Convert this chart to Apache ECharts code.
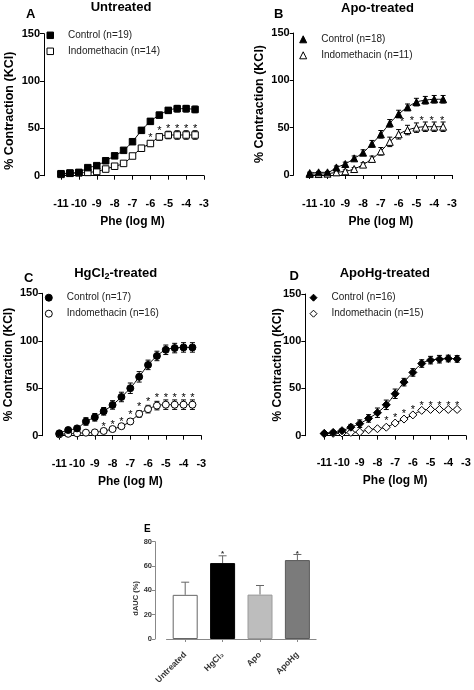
<!DOCTYPE html>
<html><head><meta charset="utf-8">
<script src="https://cdn.jsdelivr.net/npm/echarts/dist/echarts.min.js"></script>
<style>html,body{margin:0;padding:0;background:#fff}#c{width:474px;height:690px}</style>
</head><body><div id="c"></div>
<script>
// ---- data ----
const logPhe = [-11,-10.5,-10,-9.5,-9,-8.5,-8,-7.5,-7,-6.5,-6,-5.5,-5,-4.5,-4,-3.5];
const xTicks = [-11,-10,-9,-8,-7,-6,-5,-4,-3];

const ctrlA = [2.1,2.8,3.5,8.5,10.6,15.8,21,26.8,35.9,47.9,57.4,64,69,70.8,70.8,70];
const ctrlAErr = [1,1,1,1.5,1.5,1.5,1.5,2,2.5,3,3,3,3,3.5,3.5,3.5];
const indoA = [1.4,2.5,3,3.5,4.5,7,10,13,20.8,29,34,41,43,43,43,43];
const indoAErr = [1,1,1,1,1,1,1,1.5,2,3,3,3.5,4,4.5,4.5,4.5];
const starAx = [-6,-5.5,-5,-4.5,-4,-3.5];
const starAy = [43,50,52,52,52,52];

const ctrlB = [2,2.8,2.8,8,11.6,17.6,23.6,33,43,54.6,64.4,71.5,77,79,80,80];
const ctrlBErr = [1,1,1,1.5,2,2.5,3,3.5,4,4,4,3.5,4,4,4,4];
const indoB = [1,1,1.4,2.8,3.9,6.3,11,17,25,35,43,47.5,50,51,51,51];
const indoBErr = [1,1,1,1,1.5,1.5,2,3,4,5,5,5,5,5,5,5];
const starBx = [-5.8,-5.25,-4.7,-4.15,-3.55];
const starBy = [59,60.5,60.5,60.5,60.5];

const ctrlC = [2.5,6,7.7,15,19.4,25.7,32.4,40.8,50,62,74.6,84,90.5,92.3,93,93];
const ctrlCErr = [2,2,2.5,4,4,4,4.5,5,5.5,5.5,5,5,5,5,5,5];
const indoC = [1.4,2,2.5,3.2,3.5,5,7,10,15,23,28,31.7,32.7,32.7,32.7,32.7];
const indoCErr = [1,1,1,1,1,1,1.5,2,2.5,3.5,4,4.5,5,5,5,5];
const starCx = [-8.5,-8,-7.5,-7,-6.5,-6,-5.5,-5,-4.5,-4,-3.5];
const starCy = [12.3,13.7,17.6,24.6,33,38.7,42.3,42.3,42.3,42.3,42.3];

const ctrlD = [2.5,3.5,5.3,9,12.7,18.3,24.3,32.7,44.4,56.7,67,76.4,80,81,81.7,81.3];
const ctrlDErr = [1.5,1.5,2,3,4,4,5,5,5,4,4,4,4,4,3.5,3.5];
const indoD = [2,2.5,2.8,3.5,3.9,6.3,7.4,9,13.4,17.6,22,26.8,27.8,27.8,27.8,27.8];
const indoDErr = [1,1,1,1,1,1,1,1.5,1.5,1.5,1.5,1.5,1.5,1.5,1.5,1.5];
const starDx = [-7.5,-7,-6.5,-6,-5.5,-5,-4.5,-4,-3.5];
const starDy = [18.3,21.5,25.4,30.6,34.9,34.9,34.9,34.9,34.9];

const groupsE = ['Untreated','HgCl\u2082','Apo','ApoHg'];
const dAUC = [36.3,62.4,36.5,64.9];
const dAUCErr = [10.4,6,7.5,4.6];
const starEcat = [1,3];
const starEy = [72,72];

const yTicksCurve = [0,50,100,150];
const yTicksE = [0,20,40,60,80];

// ---- style / layout ----
const FONT = '"Liberation Sans", Arial, sans-serif';
const panels = [
  {grid:{left:61, top:33.7, width:143, height:142}, xOff:16, yOff:17, yGap:28, yFs:12.5, yPad:[0,12,0,0],
   sym:'rect', ctrl:ctrlA, ctrlE:ctrlAErr, indo:indoA, indoE:indoAErr, sx:starAx, sy:starAy,
   nC:'Control (n=19)', nI:'Indomethacin (n=14)', leg:{left:46.5, top:30.3}, size:6.5, lsz:6.5},
  {grid:{left:309.7, top:33, width:142.3, height:142}, xOff:16.7, yOff:16, yGap:28, yFs:12.5, yPad:0,
   sym:'triangle', ctrl:ctrlB, ctrlE:ctrlBErr, indo:indoB, indoE:indoBErr, sx:starBx, sy:starBy,
   nC:'Control (n=18)', nI:'Indomethacin (n=11)', leg:{left:299.2, top:34.3}, size:7, lsz:7},
  {grid:{left:59.3, top:293.3, width:142, height:142.4}, xOff:16, yOff:17, yGap:28, yFs:12, yPad:0,
   sym:'circle', ctrl:ctrlC, ctrlE:ctrlCErr, indo:indoC, indoE:indoCErr, sx:starCx, sy:starCy,
   nC:'Control (n=17)', nI:'Indomethacin (n=16)', leg:{left:44.8, top:292.7}, size:7, lsz:7},
  {grid:{left:324.3, top:294, width:141.7, height:141.7}, xOff:15, yOff:19, yGap:22, yFs:12, yPad:0,
   sym:'diamond', ctrl:ctrlD, ctrlE:ctrlDErr, indo:indoD, indoE:indoDErr, sx:starDx, sy:starDy,
   nC:'Control (n=16)', nI:'Indomethacin (n=15)', leg:{left:309.5, top:292.7}, size:8, lsz:7}
];

const grids = [], xAxes = [], yAxes = [], series = [], legends = [];

function errBars(gi, xs, ys, es, cap) {
  return {
    type:'custom', xAxisIndex:gi, yAxisIndex:gi, z:2, silent:true,
    data: xs.map((x,i)=>[x, ys[i]-es[i], ys[i]+es[i]]),
    encode:{x:0, y:[1,2]},
    renderItem(params, api) {
      const x = api.value(0);
      const p1 = api.coord([x, api.value(1)]), p2 = api.coord([x, api.value(2)]);
      const w = cap/2, st = {stroke:'#000', lineWidth:1};
      return {type:'group', children:[
        {type:'line', shape:{x1:p1[0],y1:p1[1],x2:p2[0],y2:p2[1]}, style:st},
        {type:'line', shape:{x1:p1[0]-w,y1:p1[1],x2:p1[0]+w,y2:p1[1]}, style:st},
        {type:'line', shape:{x1:p2[0]-w,y1:p2[1],x2:p2[0]+w,y2:p2[1]}, style:st}
      ]};
    }
  };
}
function stars(gi, xs, ys, fs) {
  return {
    type:'custom', xAxisIndex:gi, yAxisIndex:gi, z:5, silent:true,
    data: xs.map((x,i)=>[x, ys[i]]),
    renderItem(params, api) {
      const p = api.coord([api.value(0), api.value(1)]);
      return {type:'text', x:p[0], y:p[1]+fs*0.25,
        style:{text:'*', font:fs+'px '+FONT, fill:'#000', textAlign:'center', textVerticalAlign:'middle'}};
    }
  };
}

panels.forEach((p, gi) => {
  grids.push(Object.assign({outerBoundsMode:'none', containLabel:false}, p.grid));
  xAxes.push({
    gridIndex:gi, type:'value', min:-11, max:-3, interval:1, offset:p.xOff,
    axisLine:{show:true, lineStyle:{color:'#000', width:1}},
    axisTick:{show:true, length:4, lineStyle:{color:'#000'}},
    axisLabel:{fontFamily:FONT, fontWeight:'bold', fontSize:11, color:'#000', margin:7},
    splitLine:{show:false},
    name:'Phe (log M)', nameLocation:'middle', nameGap:24, nameMoveOverlap:false,
    nameTextStyle:{fontFamily:FONT, fontWeight:'bold', fontSize:12, color:'#000'}
  });
  yAxes.push({
    gridIndex:gi, type:'value', min:0, max:150, interval:50, offset:p.yOff,
    axisLine:{show:true, lineStyle:{color:'#000', width:1}},
    axisTick:{show:true, length:4, lineStyle:{color:'#000'}},
    axisLabel:{fontFamily:FONT, fontWeight:'bold', fontSize:11, color:'#000', margin:4},
    splitLine:{show:false},
    name:'% Contraction (KCl)', nameLocation:'middle', nameGap:p.yGap, nameMoveOverlap:false,
    nameTextStyle:{fontFamily:FONT, fontWeight:'bold', fontSize:p.yFs, color:'#000', padding:p.yPad}
  });
  series.push(errBars(gi, logPhe, p.ctrl, p.ctrlE, 5));
  series.push(errBars(gi, logPhe, p.indo, p.indoE, 5));
  series.push({
    name:p.nC, type:'line', xAxisIndex:gi, yAxisIndex:gi, z:4, smooth:0.35,
    data: logPhe.map((x,i)=>[x, p.ctrl[i]]),
    symbol:p.sym, symbolSize:p.size, showSymbol:true,
    lineStyle:{color:'#000', width:1},
    itemStyle:{color:'#000', borderColor:'#000', borderWidth:1},
    emphasis:{disabled:true}, animation:false
  });
  series.push({
    name:p.nI, type:'line', xAxisIndex:gi, yAxisIndex:gi, z:3, smooth:0.35,
    data: logPhe.map((x,i)=>[x, p.indo[i]]),
    symbol:p.sym, symbolSize:p.size, showSymbol:true,
    lineStyle:{color:'#000', width:1},
    itemStyle:{color:'#fff', borderColor:'#000', borderWidth:1},
    emphasis:{disabled:true}, animation:false
  });
  series.push(stars(gi, p.sx, p.sy, 11));
  legends.push({
    left:p.leg.left, top:p.leg.top, orient:'vertical', itemWidth:p.lsz, itemHeight:p.lsz, itemGap:6,
    selectedMode:false, padding:0,
    textStyle:{fontFamily:FONT, fontSize:10, color:'#222', padding:[0,0,0,9.5]},
    data:[
      {name:p.nC, icon:p.sym, itemStyle:{color:'#000', borderColor:'#000', borderWidth:1}},
      {name:p.nI, icon:p.sym, itemStyle:{color:'#fff', borderColor:'#000', borderWidth:1}}
    ]
  });
});

// Panel E
const gE = 4;
grids.push({left:166.5, top:541.7, width:149.6, height:97.3, outerBoundsMode:'none', containLabel:false});
xAxes.push({
  gridIndex:gE, type:'category', data:groupsE, offset:9.5,
  axisLine:{show:true, lineStyle:{color:'#888', width:1}},
  axisTick:{show:true, alignWithLabel:true, length:3, lineStyle:{color:'#888'}},
  axisLabel:{fontFamily:FONT, fontWeight:'bold', fontSize:8.5, color:'#333', rotate:45, margin:5, interval:0}
});
yAxes.push({
  gridIndex:gE, type:'value', min:0, max:80, interval:20, offset:11.5,
  axisLine:{show:true, lineStyle:{color:'#888', width:1}},
  axisTick:{show:true, length:3, lineStyle:{color:'#888'}},
  axisLabel:{fontFamily:FONT, fontWeight:'bold', fontSize:7.5, color:'#333', margin:3},
  splitLine:{show:false},
  name:'dAUC (%)', nameLocation:'middle', nameGap:15, nameMoveOverlap:false,
  nameTextStyle:{fontFamily:FONT, fontWeight:'bold', fontSize:7.5, color:'#333', padding:[0,16,0,0]}
});
const barFill = ['#ffffff','#000000','#bdbdbd','#7b7b7b'];
const barEdge = ['#666666','#000000','#9a9a9a','#5a5a5a'];
series.push({
  type:'custom', xAxisIndex:gE, yAxisIndex:gE, z:1, silent:true,
  data: dAUC.map((v,i)=>[i, v, v+dAUCErr[i]]),
  encode:{x:0, y:[1,2]},
  renderItem(params, api) {
    const x = api.value(0);
    const p1 = api.coord([x, api.value(1)]), p2 = api.coord([x, api.value(2)]);
    const st = {stroke:'#666', lineWidth:1};
    return {type:'group', children:[
      {type:'line', shape:{x1:p1[0],y1:p1[1],x2:p2[0],y2:p2[1]}, style:st},
      {type:'line', shape:{x1:p2[0]-4,y1:p2[1],x2:p2[0]+4,y2:p2[1]}, style:st}
    ]};
  }
});
series.push({
  type:'bar', xAxisIndex:gE, yAxisIndex:gE, z:3, barWidth:25, silent:true,
  data: dAUC.map((v,i)=>({value:v, itemStyle:{color:barFill[i], borderColor:barEdge[i], borderWidth:1}})),
  animation:false
});
series.push({
  type:'custom', xAxisIndex:gE, yAxisIndex:gE, z:5, silent:true,
  data: starEcat.map((c,i)=>[c, starEy[i]]),
  renderItem(params, api) {
    const p = api.coord([api.value(0), api.value(1)]);
    return {type:'text', x:p[0], y:p[1]+2,
      style:{text:'*', font:'bold 8px '+FONT, fill:'#333', textAlign:'center', textVerticalAlign:'middle'}};
  }
});

// Titles / panel letters
const tf = 'bold 13px '+FONT;
const graphic = [
  {type:'text', x:121, y:7.5, style:{text:'Untreated', font:tf, fill:'#000', textAlign:'center', textVerticalAlign:'middle'}},
  {type:'text', x:377.5, y:8, style:{text:'Apo-treated', font:tf, fill:'#000', textAlign:'center', textVerticalAlign:'middle'}},
  {type:'text', x:115.7, y:273.5, style:{text:'{a|HgCl}{s|2}{a|-treated}', textAlign:'center', textVerticalAlign:'middle',
    rich:{a:{font:tf, fill:'#000', lineHeight:14}, s:{font:'bold 9px '+FONT, fill:'#000', lineHeight:14, padding:[6,0,0,0]}}}},
  {type:'text', x:384.8, y:273.5, style:{text:'ApoHg-treated', font:tf, fill:'#000', textAlign:'center', textVerticalAlign:'middle'}},
  {type:'text', x:30.7, y:14.7, style:{text:'A', font:tf, fill:'#000', textAlign:'center', textVerticalAlign:'middle'}},
  {type:'text', x:278.7, y:14, style:{text:'B', font:tf, fill:'#000', textAlign:'center', textVerticalAlign:'middle'}},
  {type:'text', x:28.7, y:278.3, style:{text:'C', font:tf, fill:'#000', textAlign:'center', textVerticalAlign:'middle'}},
  {type:'text', x:294.3, y:276, style:{text:'D', font:tf, fill:'#000', textAlign:'center', textVerticalAlign:'middle'}},
  {type:'text', x:147.3, y:529.3, style:{text:'E', font:'bold 10px '+FONT, fill:'#000', textAlign:'center', textVerticalAlign:'middle'}}
];

const chart = echarts.init(document.getElementById('c'), null, {renderer:'canvas'});
chart.setOption({
  backgroundColor:'#fff', animation:false,
  grid:grids, xAxis:xAxes, yAxis:yAxes, legend:legends, series:series, graphic:graphic
});
</script></body></html>
